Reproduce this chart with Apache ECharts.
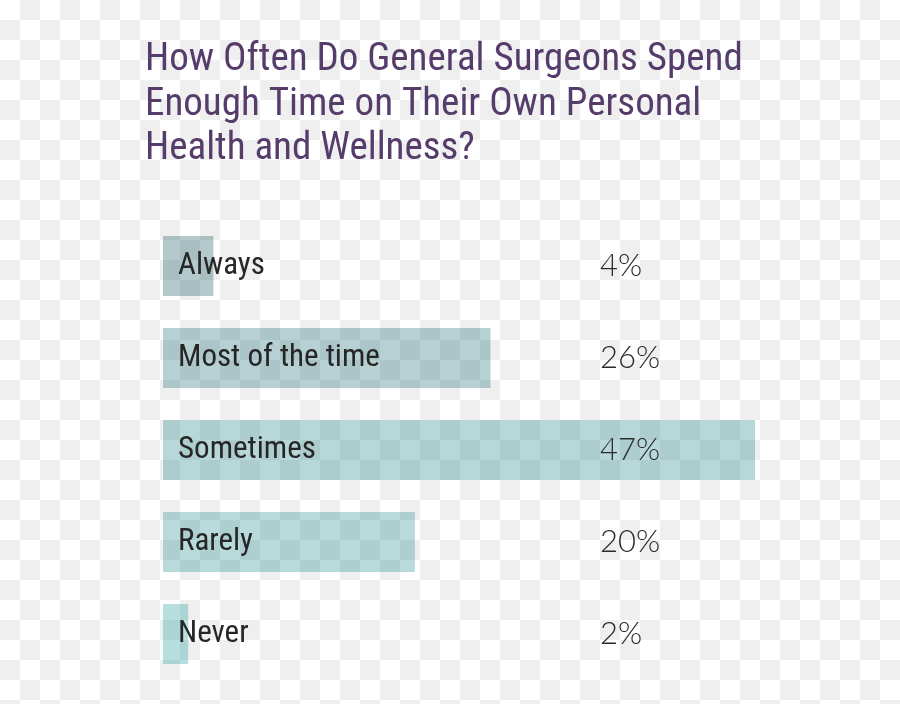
<!DOCTYPE html>
<html>
<head>
<meta charset="utf-8">
<script src="https://cdn.jsdelivr.net/npm/echarts@6/dist/echarts.min.js"></script>
<style>
html,body{margin:0;padding:0;}
#main{width:900px;height:704px;background:repeating-conic-gradient(#efefef 0 25%, #ffffff 0 50%) 0 0/40px 40px;}
</style>
</head>
<body>
<div id="main"></div>
<script>
const titleText = 'How Often Do General Surgeons Spend\nEnough Time on Their Own Personal\nHealth and Wellness?';
const categories = ['Always', 'Most of the time', 'Sometimes', 'Rarely', 'Never'];
const values = [4, 26, 47, 20, 2];
const barColors = ['rgba(18,86,96,0.32)', 'rgba(27,108,118,0.32)', 'rgba(33,130,136,0.32)', 'rgba(33,139,143,0.32)', 'rgba(33,155,158,0.32)'];

const chart = echarts.init(document.getElementById('main'), null, {renderer: 'canvas'});
const condensed = '"Roboto Condensed","Liberation Sans Narrow","Arial Narrow",Roboto,sans-serif';
chart.setOption({
  backgroundColor: 'transparent',
  animation: false,
  title: {
    text: titleText,
    left: 145,
    top: 38,
    padding: 0,
    textStyle: {
      fontFamily: condensed,
      fontSize: 39,
      fontWeight: 'normal',
      color: '#553c6b',
      lineHeight: 44.5
    }
  },
  grid: {left: 163, top: 220, width: 592, height: 460, containLabel: false},
  xAxis: {type: 'value', min: 0, max: 47, show: false},
  yAxis: {
    type: 'category',
    inverse: true,
    data: categories,
    axisLine: {show: false},
    axisTick: {show: false},
    splitLine: {show: false},
    axisLabel: {
      inside: true,
      margin: 15,
      fontFamily: condensed,
      fontSize: 31,
      color: '#262626'
    },
    z: 10
  },
  series: [{
    type: 'bar',
    barWidth: 60,
    data: values.map((v, i) => ({value: v, itemStyle: {color: barColors[i]}})),
    label: {
      show: true,
      position: [437, '50%'],
      align: 'left',
      verticalAlign: 'middle',
      formatter: '{c}%',
      fontFamily: 'Lato, "Open Sans", sans-serif',
      fontWeight: 300,
      fontSize: 31,
      color: '#2b2b2b'
    }
  }]
});
</script>
</body>
</html>
